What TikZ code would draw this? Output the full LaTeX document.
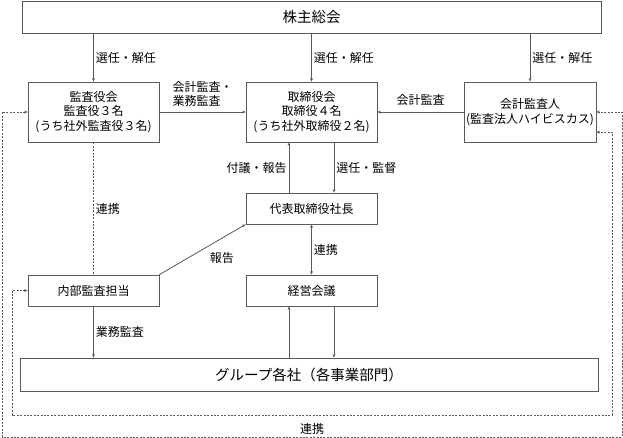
\documentclass[tikz,border=0pt]{standalone}
\usepackage{fontspec}
\setmainfont{Noto Sans CJK JP}
\usetikzlibrary{arrows.meta}

\begin{document}
\begin{tikzpicture}[x=1pt, y=-1pt,
        >={Stealth[length=3.5pt, width=3pt]},
        box/.style={draw=black!65, line width=0.8pt, text=black, align=center,
            minimum width=131pt, minimum height=31pt, inner sep=0pt,
            font=\fontsize{12}{14.5}\selectfont},
        bigbox/.style={box, minimum height=33pt, font=\fontsize{14.5}{17}\selectfont},
        lbl/.style={text=black, inner sep=2pt, font=\fontsize{12}{14.5}\selectfont},
        conn/.style={draw=black!65, line width=0.8pt},
        dlink/.style={conn, dash pattern=on 2pt off 1.4pt}]
        \useasboundingbox (0, 0) rectangle (623, 438);

        \node[bigbox, minimum width=579pt, minimum height=32pt] at (311.5, 17)  (kabu)   {株主総会};
        \node[box, minimum height=60pt] at (93.5, 112)   (kansa)  {監査役会\\監査役３名\\(うち社外監査役３名)};
        \node[box, minimum height=60pt] at (311.5, 112)  (tori)   {取締役会\\取締役４名\\(うち社外取締役２名)};
        \node[box, minimum height=60pt, minimum width=132pt] at (530, 112) (kaikei) {会計監査人\\(監査法人ハイビスカス)};
        \node[box] at (311.5, 208.5)  (daihyo) {代表取締役社長};
        \node[box] at (93.5, 290.5)   (naibu)  {内部監査担当};
        \node[box] at (311.5, 290.5)  (keiei)  {経営会議};
        \node[bigbox, minimum width=578pt] at (309, 374.5) (group) {グループ各社（各事業部門）};

        % corners of the dashed loops
        \coordinate (lo) at (2, 437);
        \coordinate (ro) at (622, 437);
        \coordinate (li) at (12, 415);
        \coordinate (ri) at (612, 415);

        \draw[conn, ->]  (kabu.south -| kansa) -- (kansa) node[midway, right, lbl] {選任・解任};
        \draw[conn, ->]  (kabu.south -| tori) -- (tori) node[midway, right, lbl] {選任・解任};
        \draw[conn, ->]  (kabu.south -| kaikei) -- (kaikei) node[midway, right, lbl] {選任・解任};

        \draw[conn, ->]  (kansa) -- (tori) node[midway, above=3pt, lbl, align=left] {会計監査・\\業務監査};
        \draw[conn, ->]  (kaikei) -- (tori) node[midway, above=4pt, lbl] {会計監査};

        \draw[conn, ->]  ([xshift=-22.5pt]daihyo.north) -- ([xshift=-22.5pt]tori.south) node[midway, left, lbl] {付議・報告};
        \draw[conn, ->]  ([xshift=22.5pt]tori.south) -- ([xshift=22.5pt]daihyo.north) node[midway, right, lbl] {選任・監督};

        \draw[conn, ->]  (naibu.north east) -- (daihyo.south west) node[midway, anchor=north west, xshift=5pt, yshift=-1pt, lbl] {報告};
        \draw[conn, <->] (daihyo) -- (keiei) node[midway, right, lbl] {連携};

        \draw[conn, ->]  ([xshift=-22.5pt]keiei.south |- group.north) -- ([xshift=-22.5pt]keiei.south);
        \draw[conn, ->]  ([xshift=22.5pt]keiei.south) -- ([xshift=22.5pt]keiei.south |- group.north);
        \draw[conn, ->]  (naibu) -- (naibu |- group.north) node[midway, right, lbl] {業務監査};

        \draw[dlink]     (kansa) -- (naibu) node[midway, right, lbl] {連携};

        % dashed loops round the picture
        \draw[dlink, <->] (kansa.west) -| (lo) -- node[above, lbl] {連携} (ro) |- (kaikei.east);
        \draw[dlink, <->] (naibu.west) -| (li) -- (ri) |- ([yshift=-20pt]kaikei.east);

    \end{tikzpicture}
\end{document}
